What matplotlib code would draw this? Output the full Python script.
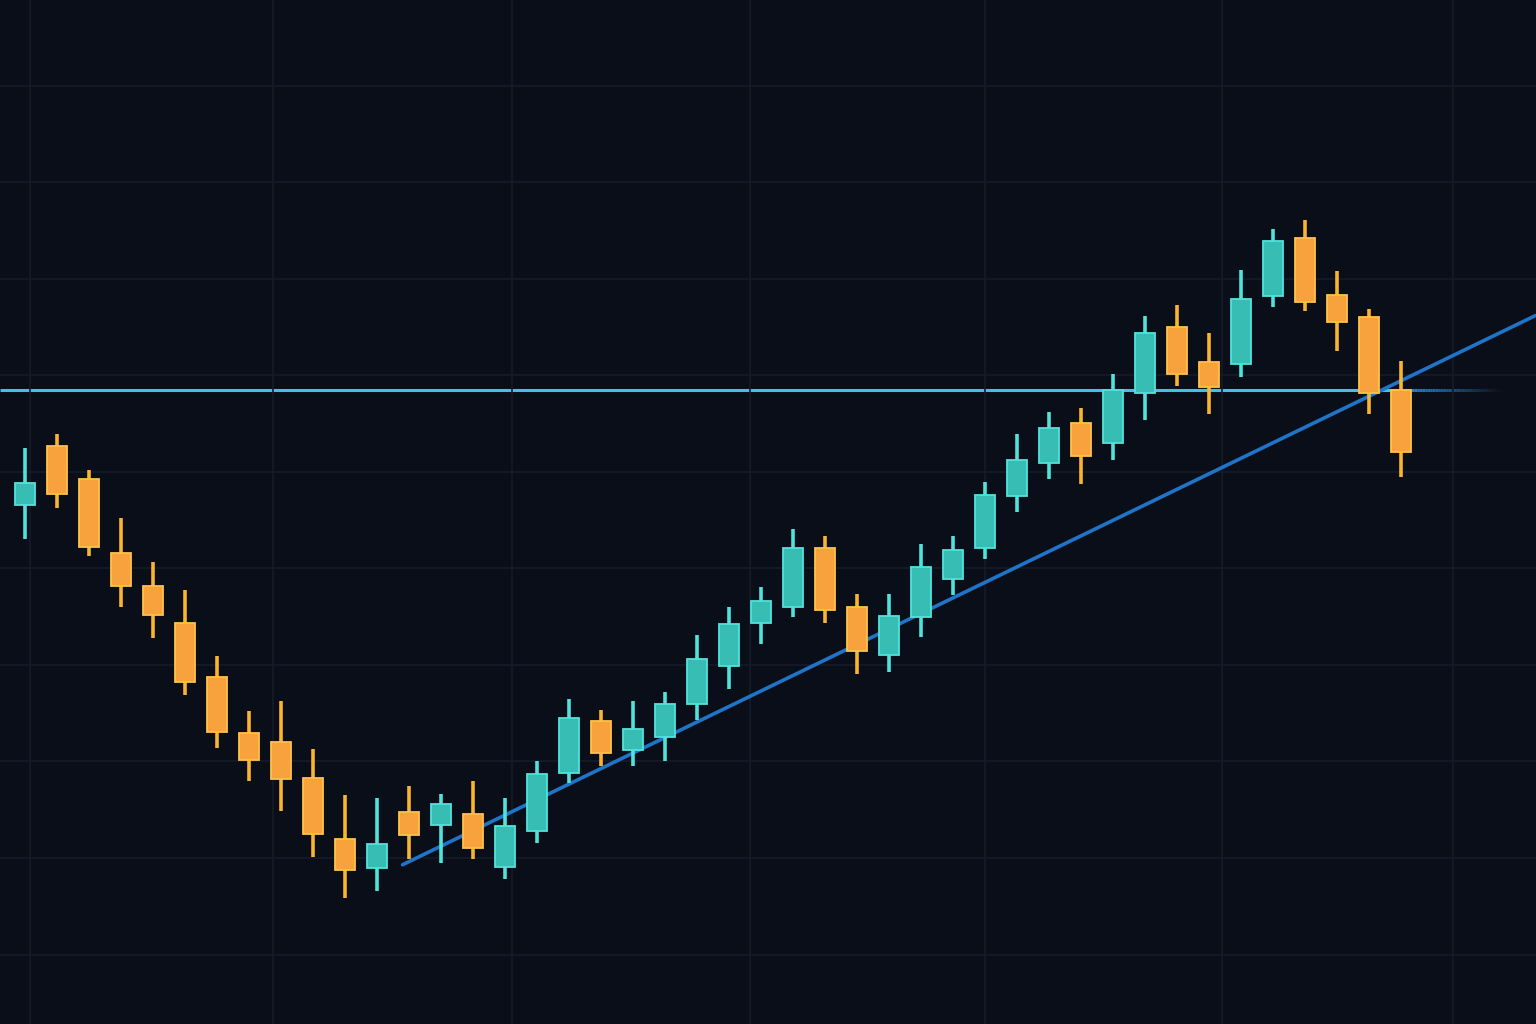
import matplotlib
matplotlib.use('Agg')
import matplotlib.pyplot as plt
import numpy as np
from matplotlib.collections import LineCollection

# OHLC values (price units, grid every 10)
opens = [146.6, 152.7, 149.3, 141.6, 138.2, 134.4, 128.8, 123.0, 122.0, 118.3,
         112.0, 109.0, 114.8, 113.4, 114.6, 109.1, 112.8, 118.8, 124.2, 121.2,
         122.5, 126.0, 129.9, 134.4, 136.0, 142.1, 136.0, 131.0, 135.0, 138.9,
         142.1, 147.5, 150.9, 155.1, 153.0, 158.2, 165.0, 161.4, 161.2, 168.2,
         174.2, 168.3, 166.1, 158.5]
highs = [152.5, 153.9, 150.2, 145.2, 140.7, 137.8, 130.9, 125.2, 126.3, 121.3,
         116.5, 116.2, 117.5, 116.6, 118.0, 116.2, 120.0, 126.5, 125.3, 126.3,
         127.2, 133.1, 136.0, 138.1, 144.1, 143.4, 137.4, 137.4, 142.5, 143.4,
         149.0, 153.9, 156.2, 156.6, 160.2, 166.2, 167.3, 164.4, 170.9, 175.2,
         176.1, 170.8, 166.9, 161.5]
lows = [143.1, 146.3, 141.3, 136.0, 132.8, 126.9, 121.4, 118.0, 114.9, 110.1,
        105.9, 106.6, 109.9, 109.5, 109.9, 107.8, 111.6, 117.8, 119.5, 119.5,
        120.1, 124.3, 127.5, 132.2, 135.0, 134.4, 129.1, 129.3, 132.9, 137.2,
        141.0, 145.8, 149.3, 148.8, 151.2, 155.4, 158.9, 156.0, 159.8, 167.1,
        166.7, 162.5, 156.0, 149.5]
closes = [148.9, 147.7, 142.2, 138.2, 135.2, 128.2, 123.1, 120.2, 118.2, 112.5,
          108.8, 111.5, 112.4, 115.6, 111.0, 113.3, 118.7, 124.5, 120.9, 123.4,
          126.0, 130.6, 134.2, 136.6, 142.1, 135.7, 131.4, 135.1, 140.1, 141.9,
          147.6, 151.2, 154.6, 151.7, 158.5, 164.4, 160.1, 158.8, 167.9, 173.9,
          167.6, 165.5, 158.2, 152.1]

resistance = 158.5
trend_x = [11.8, 47.2]
trend_y = [109.3, 166.2]

BG = '#0a0e18'
GRID = '#151b29'
UP_FILL, UP_EDGE = '#37bdb3', '#4fe3da'
DN_FILL, DN_EDGE = '#f8a23e', '#ffc247'


def main():
    fig = plt.figure(figsize=(15.36, 10.24), dpi=100, facecolor=BG)
    ax = fig.add_axes([0, 0, 1, 1])
    ax.set_facecolor(BG)

    x = np.arange(len(opens))
    o = np.array(opens)
    c = np.array(closes)
    up = c >= o

    ax.set_xlim(-0.78, 47.22)
    ax.set_ylim(92.8, 198.9)

    # grid
    ax.set_xticks([0.16, 7.75, 15.22, 22.66, 30.0, 37.4, 44.63])
    ax.set_yticks(np.arange(100, 200, 10))
    ax.grid(color=GRID, linewidth=1.2, zorder=0)
    ax.tick_params(length=0, labelbottom=False, labelleft=False)
    for s in ax.spines.values():
        s.set_visible(False)

    # horizontal level, fading out on the right
    ax.plot([-0.78, 43.0], [resistance, resistance], color='#3ec4dc',
            linewidth=2.2, zorder=1, solid_capstyle='butt')
    fx = np.linspace(43.0, 46.2, 40)
    segs = [[(fx[i], resistance), (fx[i + 1], resistance)] for i in range(len(fx) - 1)]
    alphas = np.linspace(1, 0, len(segs))
    cols = [(0.18, 0.55, 0.85, a) for a in alphas]
    ax.add_collection(LineCollection(segs, colors=cols, linewidths=2.2, zorder=1))

    # trend line
    ax.plot(trend_x, trend_y, color='#1f74c8', linewidth=2.6, zorder=2,
            solid_capstyle='round')

    # wicks
    ax.vlines(x[up], np.array(lows)[up], np.array(highs)[up],
              color=UP_EDGE, linewidth=2.6, zorder=3)
    ax.vlines(x[~up], np.array(lows)[~up], np.array(highs)[~up],
              color='#f9b530', linewidth=2.6, zorder=3)

    # bodies
    bottom = np.minimum(o, c)
    height = np.abs(c - o)
    ax.bar(x[up], height[up], 0.64, bottom=bottom[up], color=UP_FILL,
           edgecolor=UP_EDGE, linewidth=1.3, zorder=4)
    ax.bar(x[~up], height[~up], 0.64, bottom=bottom[~up], color=DN_FILL,
           edgecolor=DN_EDGE, linewidth=1.3, zorder=4)

    plt.savefig('out.png', dpi=100, facecolor=BG)
    return 0


if __name__ == '__main__':
    main()
